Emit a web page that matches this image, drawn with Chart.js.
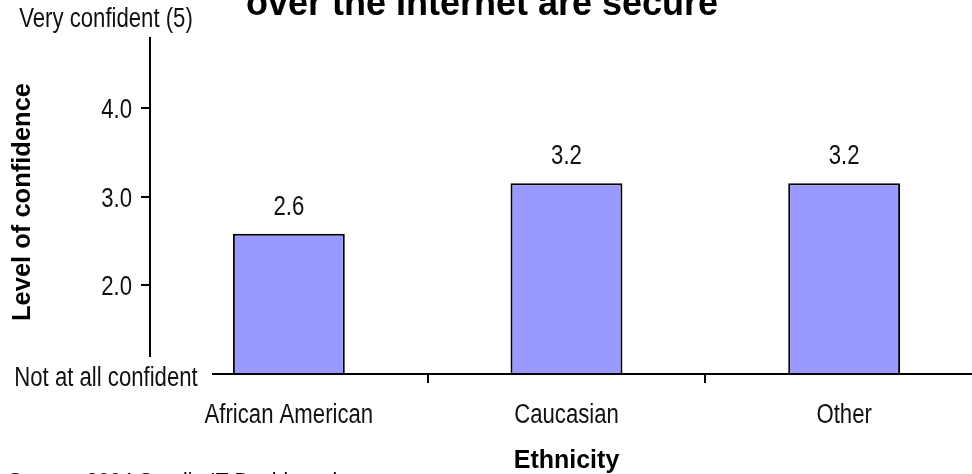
<!DOCTYPE html>
<html>
<head>
<meta charset="utf-8">
<script src="https://cdn.jsdelivr.net/npm/chart.js@4/dist/chart.umd.min.js"></script>
<style>
  html, body { margin: 0; padding: 0; background: #fff; overflow: hidden; width: 972px; height: 474px; }
  canvas { display: block; }
</style>
</head>
<body>
<canvas id="c" width="983" height="474"></canvas>
<script>
// ---- data ----
const categories = ['African American', 'Caucasian', 'Other'];
const confidence = [2.58, 3.15, 3.15];
const valueLabels = ['2.6', '3.2', '3.2'];
const yTickValues = [1, 2, 3, 4, 5];
const yTickLabels = ['Not at all confident', '2.0', '3.0', '4.0', 'Very confident (5)'];
const titleText = 'over the Internet are secure';
const xTitle = 'Ethnicity';
const yTitle = 'Level of confidence';
const sourceText = 'Source: 2004 Sandia IT Dashboard';

const SANS = '"Liberation Sans", Arial, sans-serif';
const NARROW_SIZE = 27;
const NARROW_SCALE = 0.82; // emulate Arial Narrow

function narrowText(ctx, text, x, y, align) {
  ctx.save();
  ctx.translate(x, y);
  ctx.scale(NARROW_SCALE, 1);
  ctx.font = NARROW_SIZE + 'px ' + SANS;
  ctx.textAlign = align;
  ctx.textBaseline = 'alphabetic';
  ctx.fillStyle = '#111';
  ctx.fillText(text, 0, 0);
  ctx.restore();
}

const overlay = {
  id: 'overlay',
  afterDatasetsDraw(chart) {
    const ctx = chart.ctx;
    const a = chart.chartArea;
    const xs = chart.scales.x;
    const ys = chart.scales.y;
    ctx.save();
    ctx.strokeStyle = '#000';
    ctx.lineWidth = 2;
    // broken y axis line
    ctx.beginPath();
    ctx.moveTo(a.left, a.top + 18);
    ctx.lineTo(a.left, a.bottom - 17);
    ctx.stroke();
    // broken x axis line
    ctx.beginPath();
    ctx.moveTo(a.left + 62, a.bottom);
    ctx.lineTo(chart.width, a.bottom);
    ctx.stroke();

    // value labels above bars
    const meta = chart.getDatasetMeta(0);
    meta.data.forEach((bar, i) => {
      narrowText(ctx, valueLabels[i], bar.x, bar.y - 19, 'center');
    });

    // x category labels
    categories.forEach((c, i) => {
      narrowText(ctx, c, xs.getPixelForValue(i), a.bottom + 49, 'center');
    });

    // y tick labels
    yTickValues.forEach((v, i) => {
      const py = ys.getPixelForValue(v);
      if (v === 1) narrowText(ctx, yTickLabels[i], 106, py + 12, 'center');
      else if (v === 5) narrowText(ctx, yTickLabels[i], 106, py + 8, 'center');
      else narrowText(ctx, yTickLabels[i], 132, py + 10, 'right');
    });

    // y axis title
    ctx.fillStyle = '#000';
    ctx.save();
    ctx.translate(23, 202);
    ctx.rotate(-Math.PI / 2);
    ctx.font = 'bold 25.5px ' + SANS;
    ctx.textAlign = 'center';
    ctx.textBaseline = 'middle';
    ctx.fillText(yTitle, 0, 0);
    ctx.restore();

    // title (only lower line visible)
    ctx.font = 'bold 36px ' + SANS;
    ctx.textAlign = 'center';
    ctx.textBaseline = 'alphabetic';
    ctx.fillText(titleText, 482, 15);
    // source
    ctx.font = '21px ' + SANS;
    ctx.textAlign = 'left';
    ctx.textBaseline = 'top';
    ctx.fillText(sourceText, 8, 471);
    ctx.restore();
  }
};

new Chart(document.getElementById('c'), {
  type: 'bar',
  data: {
    labels: categories,
    datasets: [{
      data: confidence,
      backgroundColor: '#9999FF',
      borderColor: '#000',
      borderWidth: 2,
      borderSkipped: false,
      categoryPercentage: 1,
      barPercentage: 0.403
    }]
  },
  options: {
    responsive: false,
    animation: false,
    devicePixelRatio: 1,
    layout: { padding: { top: 19, left: 0, right: 0, bottom: 0 } },
    plugins: { legend: { display: false }, tooltip: { enabled: false }, title: { display: false } },
    scales: {
      x: {
        afterFit(s) { s.height = 100; },
        border: { display: false },
        grid: {
          offset: true,
          drawOnChartArea: false,
          drawTicks: true,
          tickLength: 9,
          lineWidth: 2,
          color: c => (c.index === 1 || c.index === 2) ? '#000' : 'rgba(0,0,0,0)'
        },
        ticks: { display: false },
        title: { display: true, text: xTitle, color: '#000', font: { family: SANS, size: 25, weight: 'bold', lineHeight: 1 }, padding: { top: 0, bottom: 0 } }
      },
      y: {
        min: 1, max: 5,
        afterFit(s) { s.width = 150; },
        afterBuildTicks(s) { s.ticks = yTickValues.map(v => ({ value: v })); },
        border: { display: false },
        grid: {
          drawOnChartArea: false,
          drawTicks: true,
          tickLength: 9,
          lineWidth: 2,
          color: c => (c.tick && c.tick.value > 1 && c.tick.value < 5) ? '#000' : 'rgba(0,0,0,0)'
        },
        ticks: { display: false },
        title: { display: false }
      }
    }
  },
  plugins: [overlay]
});
</script>
</body>
</html>
